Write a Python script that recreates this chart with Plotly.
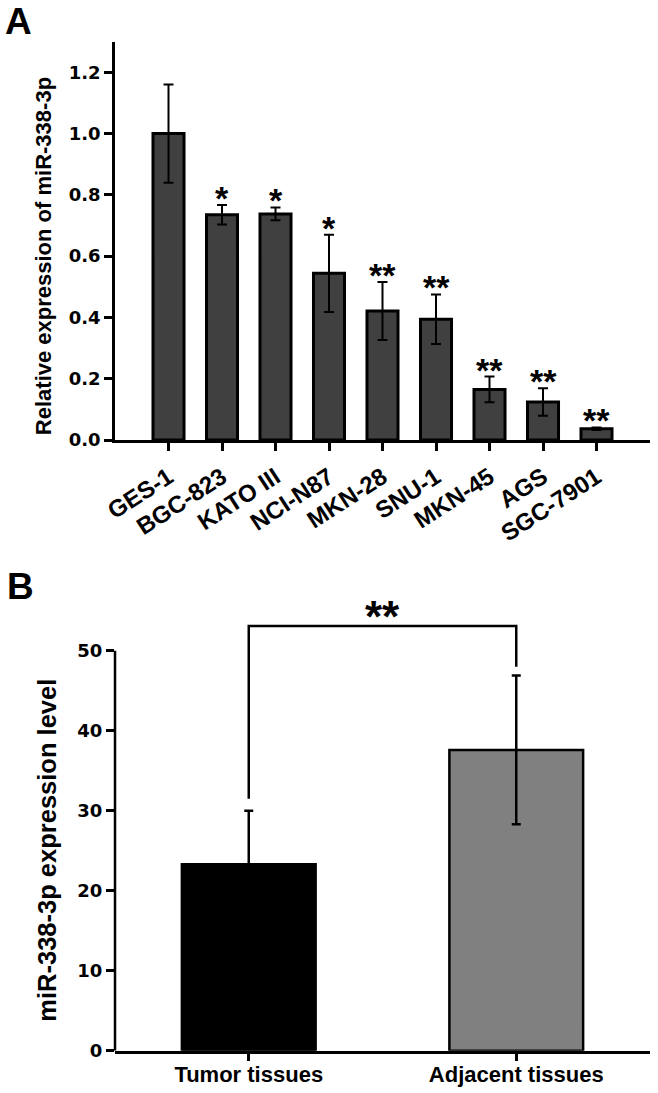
import plotly.graph_objects as go

# ---------------- Data ----------------
cell_lines = ["GES-1", "BGC-823", "KATO III", "NCI-N87", "MKN-28", "SNU-1", "MKN-45", "AGS", "SGC-7901"]
rel_expr = [1.00, 0.735, 0.738, 0.544, 0.421, 0.394, 0.165, 0.124, 0.037]
rel_err = [0.160, 0.032, 0.021, 0.126, 0.095, 0.081, 0.042, 0.045, 0.004]
rel_sig = ["", "*", "*", "*", "**", "**", "**", "**", "**"]
a_yticks = [0.0, 0.2, 0.4, 0.6, 0.8, 1.0, 1.2]
a_title = "Relative expression of miR-338-3p"

tissues = ["Tumor tissues", "Adjacent tissues"]
tissue_expr = [23.3, 37.6]
tissue_err = [6.7, 9.3]
tissue_colors = ["#000000", "#808080"]
b_yticks = [0, 10, 20, 30, 40, 50]
b_title = "miR-338-3p expression level"
bracket_level = 53.1
bracket_ends = [31.5, 48.0]
bracket_label = "**"

FONT = "Liberation Sans, Arial, sans-serif"
TICKFONT = "DejaVu Sans, Verdana, sans-serif"

fig = go.Figure()

# Panel A bars
fig.add_trace(go.Bar(
    x=cell_lines, y=rel_expr,
    error_y=dict(type="data", array=rel_err, visible=True, color="black", thickness=2, width=5),
    marker=dict(color="#404040", line=dict(color="black", width=3)),
    width=0.58, xaxis="x", yaxis="y", showlegend=False,
))

# Panel B bars
fig.add_trace(go.Bar(
    x=tissues, y=tissue_expr,
    error_y=dict(type="data", array=tissue_err, visible=True, color="black", thickness=2.5, width=4.5),
    marker=dict(color=tissue_colors, line=dict(color="black", width=2.5)),
    width=0.5, xaxis="x2", yaxis="y2", showlegend=False,
))

# Significance bracket (panel B)
fig.add_trace(go.Scatter(
    x=[tissues[0], tissues[0], tissues[1], tissues[1]],
    y=[bracket_ends[0], bracket_level, bracket_level, bracket_ends[1]],
    mode="lines", line=dict(color="black", width=2.5),
    xaxis="x2", yaxis="y2", showlegend=False, hoverinfo="skip",
))

annotations = []
# stars panel A
for name, v, e, s in zip(cell_lines, rel_expr, rel_err, rel_sig):
    if s:
        annotations.append(dict(
            x=name, y=v + e, xref="x", yref="y", text=s, showarrow=False,
            yanchor="bottom", yshift=-14,
            font=dict(family=FONT, size=34, color="black", weight="bold"),
        ))
# stars panel B
annotations.append(dict(
    x=0.5, y=bracket_level, xref="x2", yref="y2", text=bracket_label, showarrow=False,
    yanchor="bottom", yshift=-17,
    font=dict(family=FONT, size=44, color="black", weight="bold"),
))
# axis titles (centred on the tick span, as in the original)
annotations.append(dict(x=43 / 658, y=(a_yticks[0] + a_yticks[-1]) / 2, xref="paper", yref="y",
                        text=a_title, textangle=-90, showarrow=False,
                        xanchor="center", yanchor="middle",
                        font=dict(family=FONT, size=22, color="black", weight="bold")))
annotations.append(dict(x=47 / 658, y=(b_yticks[0] + b_yticks[-1]) / 2, xref="paper", yref="y2",
                        text=b_title, textangle=-90, showarrow=False,
                        xanchor="center", yanchor="middle",
                        font=dict(family=FONT, size=25.5, color="black", weight="bold")))
# panel letters
annotations.append(dict(x=3 / 658, y=1 - 22 / 1093, xref="paper", yref="paper", text="A",
                        showarrow=False, xanchor="left", yanchor="middle",
                        font=dict(family=FONT, size=37, color="black", weight="bold")))
annotations.append(dict(x=5 / 658, y=1 - 586 / 1093, xref="paper", yref="paper", text="B",
                        showarrow=False, xanchor="left", yanchor="middle",
                        font=dict(family=FONT, size=37, color="black", weight="bold")))

axis_common = dict(
    showline=True, linecolor="black", linewidth=2.5, ticks="outside", ticklen=8,
    tickwidth=2.5, tickcolor="black", showgrid=False, zeroline=False, fixedrange=True,
    automargin=False,
)

fig.update_layout(
    width=658, height=1093,
    margin=dict(l=0, r=0, t=0, b=0, pad=0),
    paper_bgcolor="white", plot_bgcolor="white",
    font=dict(family=FONT, color="black"),
    showlegend=False,
    xaxis=dict(domain=[115 / 658, 650 / 658], anchor="y", range=[-1, 9], tickangle=-33,
               ticklabelstandoff=3,
               tickfont=dict(family=FONT, size=24, color="black", weight="bold"), **axis_common),
    yaxis=dict(domain=[(1093 - 440) / 1093, (1093 - 41.7) / 1093], anchor="x", range=[0, 1.3],
               tickvals=a_yticks, tickformat=".1f",
               tickfont=dict(family=TICKFONT, size=18, color="black", weight="bold"),
               **axis_common),
    xaxis2=dict(domain=[115 / 658, 650 / 658], anchor="y2", range=[-0.5, 1.5],
                ticklabelstandoff=-6,
                tickfont=dict(family=FONT, size=22, color="black", weight="bold"), **axis_common),
    yaxis2=dict(domain=[(1093 - 1050.7) / 1093, (1093 - 602.7) / 1093], anchor="x2", range=[0, 56],
                tickvals=b_yticks,
                tickfont=dict(family=TICKFONT, size=18, color="black", weight="bold"),
                **{**axis_common, "showline": False}),
    annotations=annotations,
    shapes=[dict(type="line", xref="x2 domain", yref="y2", x0=0, x1=0, y0=0, y1=b_yticks[-1],
                 line=dict(color="black", width=2.5))],
)

fig.write_html("out.html", config={"displayModeBar": False},
               post_script="document.body.style.margin='0';document.body.style.overflow='hidden';")
